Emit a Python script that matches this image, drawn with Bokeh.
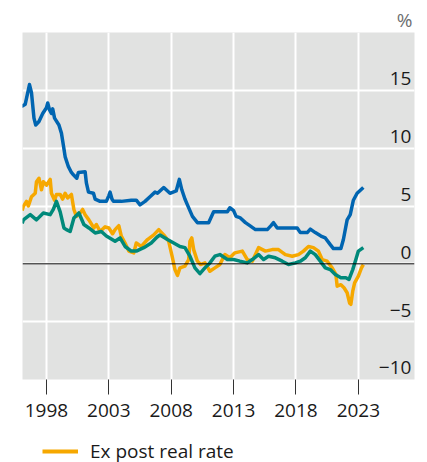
from bokeh.plotting import figure
from bokeh.layouts import column
from bokeh.models import Range1d, FixedTicker, Span, Legend, LegendItem, Title
from bokeh.core.properties import value
from bokeh.embed import file_html
from bokeh.resources import INLINE

# ---------------- data ----------------
x_ticks = [1998, 2003, 2008, 2013, 2018, 2023]
y_ticks = [-10, -5, 0, 5, 10, 15]
y_labels = ["\u221210", "\u22125", "0", "5", "10", "15"]

blue_x = [1996.0, 1996.3, 1996.5, 1996.64, 1996.8, 1997.0, 1997.14, 1997.4, 1997.7, 1998.0,
          1998.1, 1998.25, 1998.4, 1998.5, 1998.65, 1999.0, 1999.2, 1999.35, 1999.5, 1999.76,
          2000.0, 2000.16, 2000.43, 2000.56, 2001.1, 2001.2, 2001.37, 2001.77, 2001.9, 2002.3,
          2002.8, 2003.0, 2003.1, 2003.25, 2003.37, 2004.0, 2004.8, 2005.2, 2005.5, 2005.9,
          2006.3, 2006.7, 2006.9, 2007.4, 2007.9, 2008.4, 2008.65, 2008.85, 2009.1, 2009.3,
          2009.7, 2010.1, 2011.0, 2011.4, 2012.5, 2012.7, 2013.0, 2013.2, 2013.5, 2013.95,
          2014.3, 2014.75, 2015.7, 2016.0, 2016.2, 2016.5, 2018.1, 2018.35, 2018.9, 2019.15,
          2019.55, 2020.0, 2020.35, 2020.75, 2021.0, 2021.6, 2021.8, 2022.1, 2022.35, 2022.6,
          2022.9, 2023.4]
blue_y = [13.6, 13.8, 14.8, 15.5, 14.8, 12.6, 12.0, 12.3, 13.0, 13.5,
          13.9, 13.3, 13.0, 13.4, 12.6, 12.0, 11.3, 10.3, 9.25, 8.4,
          7.9, 7.7, 7.4, 7.9, 7.96, 7.0, 6.2, 6.1, 5.6, 5.4,
          5.4, 5.9, 6.2, 5.6, 5.4, 5.4, 5.5, 5.5, 5.1, 5.4,
          5.8, 6.2, 6.1, 6.6, 6.1, 6.3, 7.3, 6.4, 5.6, 5.1,
          4.1, 3.56, 3.56, 4.5, 4.5, 4.85, 4.6, 4.1, 4.0, 3.56,
          3.3, 2.96, 2.96, 3.3, 3.56, 3.1, 3.1, 2.7, 2.7, 3.0,
          2.7, 2.4, 2.24, 1.66, 1.32, 1.32, 2.1, 3.8, 4.25, 5.5,
          6.1, 6.6]

orange_x = [1996.05, 1996.15, 1996.4, 1996.55, 1996.8, 1997.1, 1997.2, 1997.4, 1997.6, 1997.75,
            1998.0, 1998.3, 1998.4, 1998.65, 1998.8, 1999.1, 1999.3, 1999.5, 1999.7, 2000.0,
            2000.2, 2000.4, 2000.7, 2000.9, 2001.1, 2001.4, 2001.8, 2002.0, 2002.3, 2002.7,
            2003.0, 2003.3, 2003.5, 2003.8, 2004.0, 2004.3, 2004.6, 2005.0, 2005.2, 2005.6,
            2006.1, 2006.6, 2007.0, 2007.4, 2007.8, 2008.07, 2008.3, 2008.5, 2008.7, 2009.1,
            2009.4, 2009.5, 2009.65, 2009.8, 2010.1, 2010.35, 2010.7, 2011.1, 2011.5, 2011.9,
            2012.3, 2012.7, 2013.1, 2013.7, 2014.1, 2014.5, 2015.0, 2015.55, 2016.1, 2016.6,
            2017.15, 2017.7, 2018.2, 2018.6, 2019.0, 2019.4, 2019.8, 2020.1, 2020.5, 2020.9,
            2021.2, 2021.3, 2021.6, 2021.85, 2022.1, 2022.3, 2022.4, 2022.55, 2022.7, 2023.0,
            2023.25, 2023.4]
orange_y = [4.6, 4.97, 5.4, 5.0, 5.8, 6.1, 7.1, 7.4, 6.4, 7.1,
            6.8, 7.3, 6.1, 5.5, 6.0, 6.0, 5.6, 6.1, 5.7, 6.0,
            4.7, 4.1, 4.4, 4.7, 4.25, 3.8, 3.1, 3.4, 2.8, 3.2,
            3.1, 2.6, 2.96, 3.3, 2.4, 1.8, 1.1, 0.95, 1.8, 1.5,
            2.1, 2.5, 2.96, 2.5, 1.95, 0.66, -0.5, -1.0, -0.35, -0.2,
            0.37, 1.95, 2.24, 1.23, 0.23, -0.06, 0.08, -0.64, -0.35, -0.06,
            0.8, 0.52, 0.95, 1.1, 0.37, 0.23, 1.4, 1.1, 1.23, 1.23,
            0.8, 0.66, 0.8, 1.1, 1.5, 1.4, 1.1, 0.37, 0.23, -0.35,
            -0.92, -1.93, -1.8, -2.07, -2.5, -3.4, -3.5, -2.36, -1.64, -1.07,
            -0.35, -0.06]

green_x = [1996.05, 1996.15, 1996.7, 1997.2, 1997.75, 1998.3, 1998.55, 1998.8, 1999.1, 1999.4,
           1999.6, 1999.9, 2000.2, 2000.6, 2001.0, 2001.4, 2001.9, 2002.4, 2002.8, 2003.5,
           2003.9, 2004.3, 2004.8, 2005.2, 2005.8, 2006.4, 2006.85, 2007.1, 2007.7, 2008.2,
           2008.7, 2009.1, 2009.5, 2009.9, 2010.3, 2010.7, 2011.1, 2011.5, 2011.9, 2012.5,
           2013.0, 2013.5, 2014.1, 2014.5, 2015.0, 2015.4, 2015.8, 2016.35, 2016.9, 2017.4,
           2017.95, 2018.35, 2018.75, 2019.15, 2019.55, 2019.95, 2020.35, 2020.75, 2021.15, 2021.6,
           2022.0, 2022.25, 2022.55, 2022.8, 2023.0, 2023.4]
green_y = [3.5, 3.8, 4.25, 3.8, 4.4, 4.25, 4.7, 5.4, 4.5, 3.1,
           2.96, 2.8, 3.97, 4.4, 3.4, 3.1, 2.67, 2.8, 2.4, 1.95,
           2.24, 1.5, 1.1, 1.1, 1.4, 1.8, 2.3, 2.5, 2.1, 1.8,
           1.5, 1.4, 0.66, -0.35, -0.85, -0.35, 0.08, 0.66, 0.8, 0.37,
           0.37, 0.23, 0.08, 0.37, 0.8, 0.37, 0.66, 0.52, 0.23, -0.06,
           0.08, 0.23, 0.52, 1.1, 0.8, 0.23, -0.35, -0.5, -0.92, -1.2,
           -1.2, -1.35, -0.5, 0.37, 1.1, 1.4]

legend_label = "Ex post real rate"
unit_label = "%"

# ---------------- styling ----------------
FONT = "Open Sans"
FS = "19px"
X_START, X_END = 1996.08, 2027.5
Y_START, Y_END = -10, 20
BLUE, ORANGE, GREEN = "#0065b1", "#f6a800", "#00897a"
LABEL_LIFT = 1.0      # y-axis labels sit this far (in %-points) above their gridline
LABEL_INSET = 0.25    # and this far (in years) inside the right edge

p = figure(width=427, height=436,
           x_range=Range1d(X_START, X_END), y_range=Range1d(Y_START, Y_END),
           output_backend="svg", toolbar_location=None,
           min_border_left=22, min_border_right=13, min_border_top=32, min_border_bottom=57)
p.background_fill_color = "#e1e2e1"
p.border_fill_color = "white"
p.outline_line_color = None
p.yaxis.visible = False

p.title = Title(text=unit_label, align="right", offset=2, standoff=0,
                text_font=FONT, text_font_size=FS, text_font_style="normal",
                text_color="#6d6e70")

xa = p.xaxis[0]
xa.ticker = FixedTicker(ticks=x_ticks)
xa.axis_line_color = None
xa.major_tick_in = 0
xa.major_tick_out = 15
xa.major_tick_line_color = "#333333"
xa.major_tick_line_width = 1
xa.minor_tick_line_color = None
xa.major_label_standoff = 9
xa.major_label_text_font = FONT
xa.major_label_text_font_size = FS
xa.major_label_text_color = "#1a1a1a"

p.xgrid.ticker = FixedTicker(ticks=x_ticks)
p.ygrid.ticker = FixedTicker(ticks=y_ticks)
for g in (p.xgrid[0], p.ygrid[0]):
    g.grid_line_color = "white"
    g.grid_line_width = 2

p.add_layout(Span(location=0, dimension="width", line_color="black", line_width=1))

p.line(blue_x, blue_y, line_color=BLUE, line_width=3.5, line_join="round")
p.line(orange_x, orange_y, line_color=ORANGE, line_width=3.5, line_join="round")
p.line(green_x, green_y, line_color=GREEN, line_width=3.5, line_join="round")

p.text(x=[X_END - LABEL_INSET] * len(y_ticks), y=[t + LABEL_LIFT for t in y_ticks],
       text=y_labels, text_align="right", text_baseline="alphabetic",
       text_font=value(FONT), text_font_size=FS, text_color="#1a1a1a")

# ---------------- legend strip ----------------
pl = figure(width=427, height=26, x_range=Range1d(0, 1), y_range=Range1d(0, 1),
            output_backend="svg", toolbar_location=None, title=None,
            x_axis_location=None, y_axis_location=None, min_border=0)
pl.outline_line_color = None
pl.background_fill_color = "white"
pl.border_fill_color = "white"
for g in list(pl.xgrid) + list(pl.ygrid):
    g.visible = False
# the orange series again; it lies outside this strip's ranges, only its legend swatch shows
r_leg = pl.line(orange_x, orange_y, line_color=ORANGE, line_width=4)
legend = Legend(items=[LegendItem(label=legend_label, renderers=[r_leg])],
                location=(20, -2), orientation="horizontal",
                glyph_width=36, glyph_height=20, label_standoff=12,
                padding=0, margin=0, spacing=0,
                border_line_alpha=0, background_fill_alpha=0,
                label_text_font=FONT, label_text_font_size=FS, label_text_color="#1a1a1a")
pl.add_layout(legend)

layout = column(p, pl, spacing=0)
open("out.html", "w").write(file_html(layout, INLINE))
